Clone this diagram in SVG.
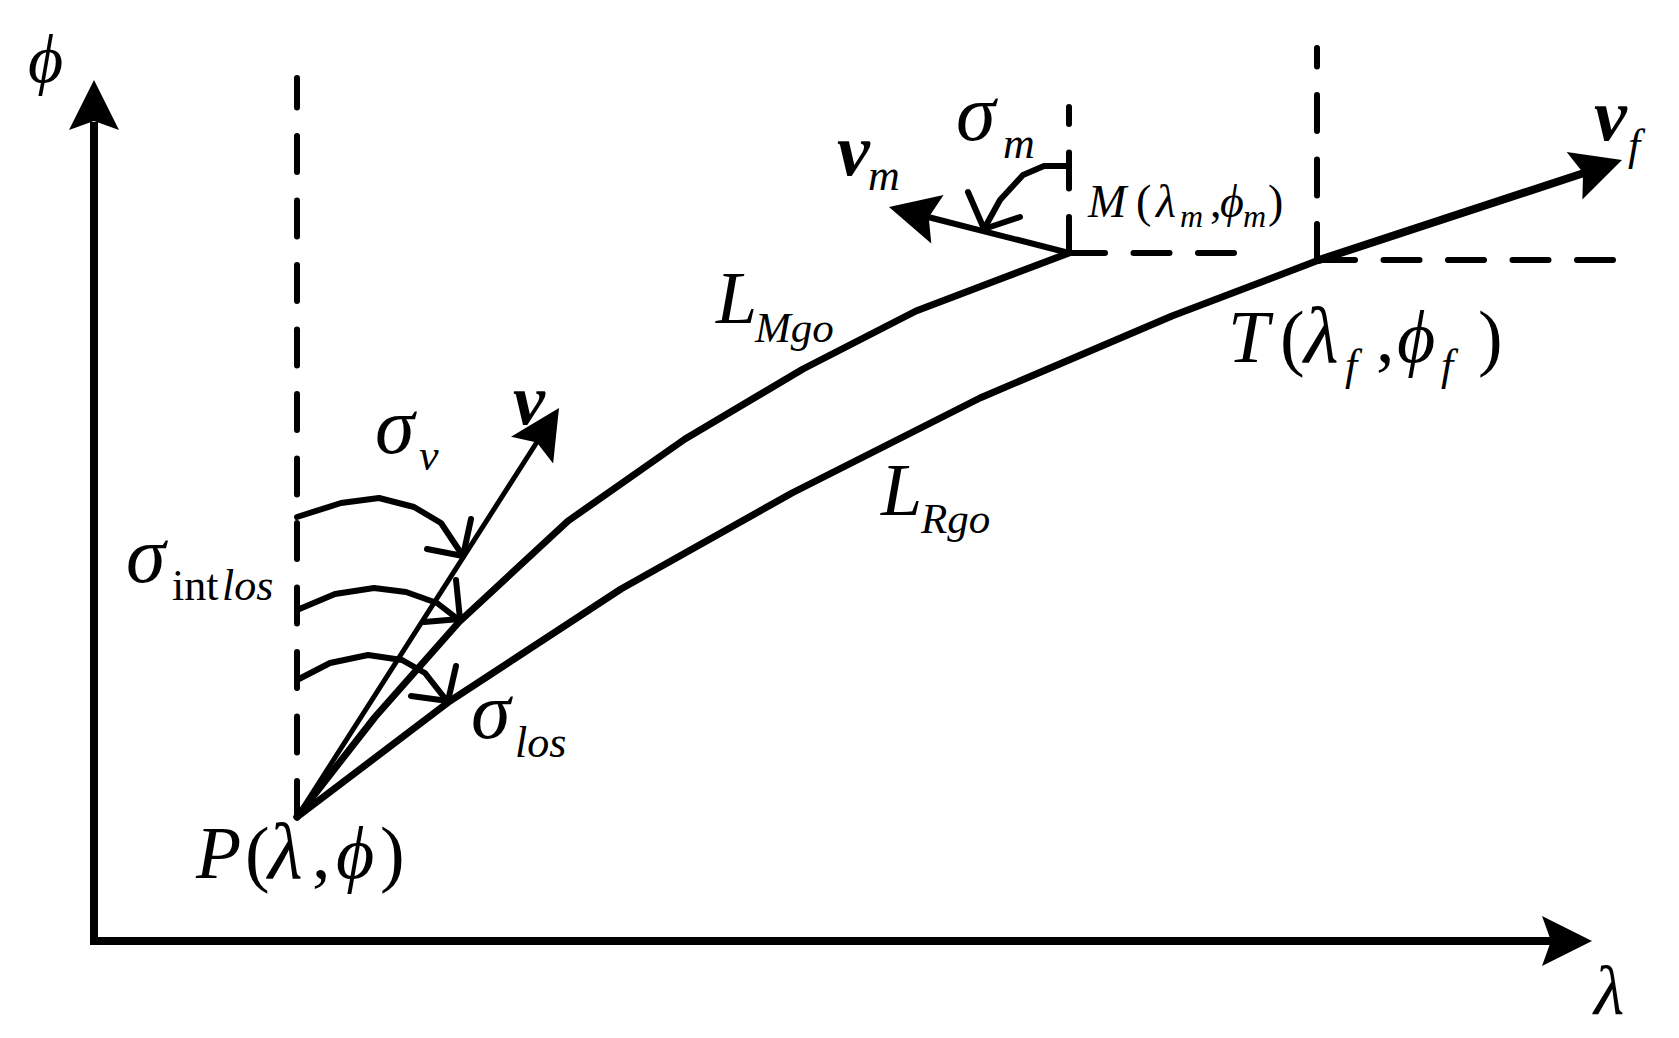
<svg xmlns="http://www.w3.org/2000/svg" xmlns:xlink="http://www.w3.org/1999/xlink" width="1679" height="1038" viewBox="0 0 1679 1038">
<style>
  .t { font-family: "Liberation Serif", "Times New Roman", serif; fill: #000; }
  .i { font-style: italic; }
  .b { font-weight: bold; font-style: italic; }
  .ln { fill: none; stroke: #000; stroke-linejoin: round; stroke-linecap: round; }
  .dash { fill: none; stroke: #000; stroke-width: 6; stroke-linecap: round; stroke-dasharray: 36 28.5; }
  .ah { fill: #000; stroke: none; }
</style>
<defs>
  <path id="ah" d="M0,0 L-50,-25 L-41,0 L-50,25 Z"/>
</defs>
<rect width="1679" height="1038" fill="#fff"/>

<g id="axes">
  <polyline points="94,122 94,941 1552,941" fill="none" stroke="#000" stroke-width="8" stroke-linejoin="miter"/>
  <use xlink:href="#ah" class="ah" transform="translate(94,80) rotate(-90)"/>
  <use xlink:href="#ah" class="ah" transform="translate(1592,941)"/>
  <text class="t i" x="28" y="82" font-size="68">ϕ</text>
  <text class="t i" x="1594" y="1014" font-size="70">λ</text>
</g>

<g id="connectors">
  <!-- dashed references -->
  <line class="dash" x1="297" y1="817" x2="297" y2="78"/>
  <line class="dash" x1="1069" y1="253" x2="1069" y2="107"/>
  <line class="dash" x1="1069" y1="253" x2="1236" y2="253"/>
  <line class="dash" x1="1317" y1="260" x2="1317" y2="48"/>
  <line class="dash" x1="1319" y1="260" x2="1616" y2="260"/>

  <!-- L_Mgo -->
  <polyline class="ln" stroke-width="7" points="297,817 375,717 459,622 568,521 685,439 803,369 916,311 1069,253"/>
  <!-- L_Rgo -->
  <polyline class="ln" stroke-width="7" points="297,817 450,701 621,589 792,493 980,398 1172,316 1319,260"/>

  <!-- v -->
  <line class="ln" stroke-width="5" x1="297" y1="817" x2="537" y2="442"/>
  <use xlink:href="#ah" class="ah" transform="translate(559,408) rotate(-57.4)"/>
  <!-- v_m -->
  <line class="ln" stroke-width="6" x1="1069" y1="253" x2="928" y2="217"/>
  <use xlink:href="#ah" class="ah" transform="translate(889,207) rotate(-165.7)"/>
  <!-- v_f -->
  <line class="ln" stroke-width="8" x1="1319" y1="260" x2="1584" y2="173"/>
  <use xlink:href="#ah" class="ah" transform="translate(1622,160) rotate(-18.3)"/>

  <!-- angle arcs -->
  <polyline class="ln" stroke-width="6" points="297,517 341,503 379,498 414,507 441,523 463,556"/>
  <polyline class="ln" stroke-width="6" points="471,519 463,556 427,549"/>
  <polyline class="ln" stroke-width="6" points="297,610 335,594 374,588 406,592 437,603 459,620"/>
  <polyline class="ln" stroke-width="6" points="456,580 460,619 424,622"/>
  <polyline class="ln" stroke-width="6" points="297,680 330,663 368,655 402,660 425,673 447,701"/>
  <polyline class="ln" stroke-width="6" points="456,666 448,701 411,696"/>
  <polyline class="ln" stroke-width="6" points="1069,166 1044,166 1023,175 1000,200 984,229"/>
  <polyline class="ln" stroke-width="6" points="968,192 984,229 1020,217"/>
</g>

<g id="node-P">
  <text class="t" font-size="74" y="878"><tspan x="196" class="i">P</tspan><tspan x="245">(</tspan><tspan x="268" class="i" font-size="80">λ</tspan><tspan x="312" font-size="74">,</tspan><tspan x="336" class="i">ϕ</tspan><tspan x="380">)</tspan></text>
</g>

<g id="node-M">
  <text class="t" font-size="46" y="217"><tspan x="1088" class="i">M</tspan><tspan x="1136">(</tspan><tspan x="1156" class="i">λ</tspan><tspan x="1180" y="227" font-size="32" class="i">m</tspan><tspan x="1210" y="217">,</tspan><tspan x="1220" class="i">ϕ</tspan><tspan x="1243" y="227" font-size="32" class="i">m</tspan><tspan x="1268" y="217">)</tspan></text>
</g>

<g id="node-T">
  <text class="t" font-size="74" y="362"><tspan x="1228" class="i">T</tspan><tspan x="1280">(</tspan><tspan x="1304" class="i" font-size="80">λ</tspan><tspan x="1345" y="380" font-size="44" class="i">f</tspan><tspan x="1376" y="362" font-size="74">,</tspan><tspan x="1397" class="i">ϕ</tspan><tspan x="1441" y="380" font-size="44" class="i">f</tspan><tspan x="1478" y="362" font-size="74">)</tspan></text>
</g>

<g id="labels">
  <text class="t" y="323"><tspan x="716" font-size="74" class="i">L</tspan><tspan x="755" y="342" font-size="43" class="i">Mgo</tspan></text>
  <text class="t" y="515"><tspan x="881" font-size="74" class="i">L</tspan><tspan x="921" y="533" font-size="43" class="i">Rgo</tspan></text>
  <text class="t" y="453"><tspan x="375" font-size="80" class="i">σ</tspan><tspan x="419" y="470" font-size="44" class="i">v</tspan></text>
  <text class="t" y="582"><tspan x="126" font-size="80" class="i">σ</tspan><tspan x="172" y="600" font-size="44">int</tspan><tspan x="222" y="600" font-size="44" class="i">los</tspan></text>
  <text class="t" y="738"><tspan x="471" font-size="80" class="i">σ</tspan><tspan x="515" y="757" font-size="44" class="i">los</tspan></text>
  <text class="t" y="140"><tspan x="956" font-size="80" class="i">σ</tspan><tspan x="1003" y="158" font-size="44" class="i">m</tspan></text>
  <text class="t b" x="513" y="424" font-size="72">v</text>
  <text class="t" y="175"><tspan x="837" font-size="74" class="b">v</tspan><tspan x="868" y="190" font-size="44" class="i">m</tspan></text>
  <text class="t" y="140"><tspan x="1594" font-size="74" class="b">v</tspan><tspan x="1628" y="160" font-size="44" class="i">f</tspan></text>
</g>
</svg>
